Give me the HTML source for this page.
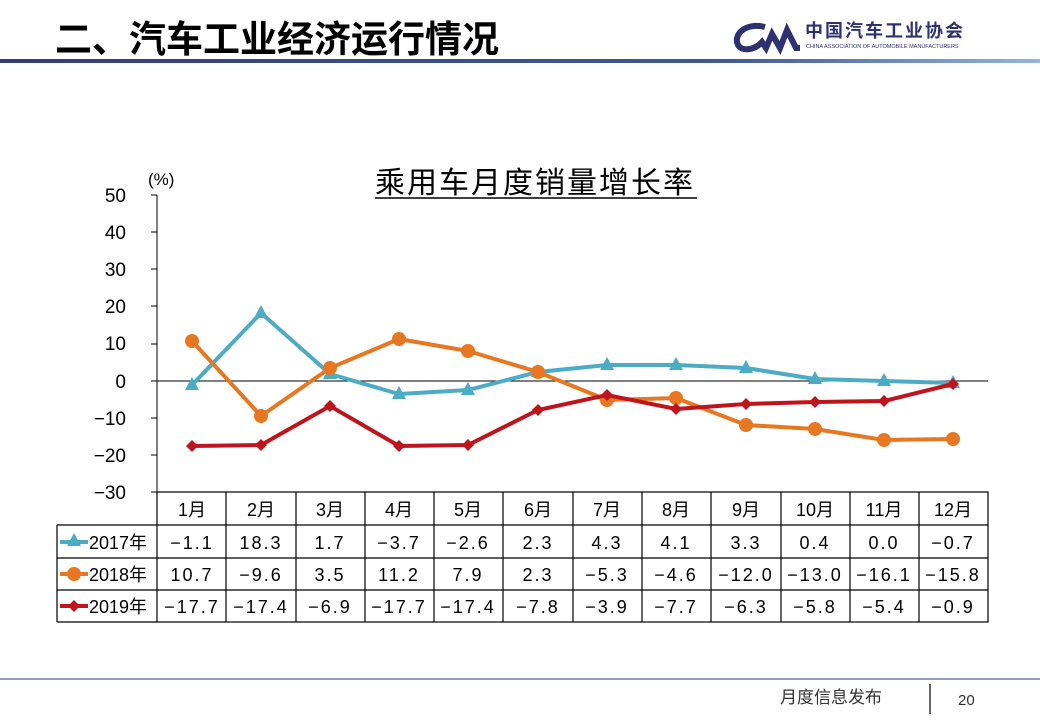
<!DOCTYPE html>
<html><head><meta charset="utf-8"><style>
body{margin:0;background:#fff;}
svg text{font-family:"Liberation Sans","Noto Sans CJK SC",sans-serif;}
</style></head><body>
<svg width="1040" height="720" viewBox="0 0 1040 720" xmlns="http://www.w3.org/2000/svg">
<defs><linearGradient id="g" x1="0" x2="1"><stop offset="0" stop-color="#2d3f78"/><stop offset="0.7" stop-color="#3d5a98"/><stop offset="1" stop-color="#8fb8e0"/></linearGradient></defs>
<text x="55" y="52" font-size="37" font-weight="bold" fill="#000">二、汽车工业经济运行情况</text>
<rect x="0" y="59" width="1040" height="4" fill="url(#g)"/>
<path d="M765 27 C745 22 733 35 738 45 C742 52 755 50 762 42 L766 48 L772 34 L780 48 L787 30 L796 48 L800 48" fill="none" stroke="#2d3170" stroke-width="6"/>
<text x="805" y="37" font-size="18" font-weight="bold" fill="#2d3170" letter-spacing="2">中国汽车工业协会</text>
<text x="806" y="48" font-size="5.5" fill="#2d3170">CHINA ASSOCIATION OF AUTOMOBILE MANUFACTURERS</text>
<text x="375" y="193" font-size="30" fill="#000" letter-spacing="2" textLength="320" lengthAdjust="spacing">乘用车月度销量增长率</text>
<line x1="375" y1="198" x2="697" y2="198" stroke="#000" stroke-width="1.5"/>
<text x="148" y="185" font-size="17" fill="#000">(%)</text>
<g font-size="19" fill="#000" text-anchor="end">
<text x="126" y="202">50</text><text x="126" y="239">40</text><text x="126" y="276">30</text><text x="126" y="313">20</text><text x="126" y="350">10</text><text x="126" y="388">0</text><text x="126" y="425">−10</text><text x="126" y="462">−20</text><text x="126" y="499">−30</text>
</g>
<g stroke="#000" stroke-width="1">
<line x1="157" y1="195" x2="157" y2="492"/>
<line x1="151" y1="195" x2="157" y2="195"/><line x1="151" y1="232" x2="157" y2="232"/><line x1="151" y1="269" x2="157" y2="269"/><line x1="151" y1="306" x2="157" y2="306"/><line x1="151" y1="344" x2="157" y2="344"/><line x1="151" y1="381" x2="157" y2="381"/><line x1="151" y1="418" x2="157" y2="418"/><line x1="151" y1="455" x2="157" y2="455"/><line x1="151" y1="492" x2="157" y2="492"/>
<line x1="157" y1="381" x2="988" y2="381"/>
</g>
<g stroke="#000" stroke-width="1.2" fill="none">
<rect x="157" y="492" width="831" height="130"/>
<line x1="57" y1="525" x2="988" y2="525"/><line x1="57" y1="558" x2="988" y2="558"/><line x1="57" y1="590" x2="988" y2="590"/><line x1="57" y1="622" x2="157" y2="622"/>
<line x1="57" y1="525" x2="57" y2="622"/>
<line x1="226" y1="492" x2="226" y2="622"/><line x1="296" y1="492" x2="296" y2="622"/><line x1="365" y1="492" x2="365" y2="622"/><line x1="434" y1="492" x2="434" y2="622"/><line x1="503" y1="492" x2="503" y2="622"/><line x1="573" y1="492" x2="573" y2="622"/><line x1="642" y1="492" x2="642" y2="622"/><line x1="711" y1="492" x2="711" y2="622"/><line x1="781" y1="492" x2="781" y2="622"/><line x1="850" y1="492" x2="850" y2="622"/><line x1="919" y1="492" x2="919" y2="622"/>
</g>
<g font-size="18" fill="#000" text-anchor="middle">
<text x="192" y="516">1月</text><text x="261" y="516">2月</text><text x="330" y="516">3月</text><text x="399" y="516">4月</text><text x="468" y="516">5月</text><text x="538" y="516">6月</text><text x="607" y="516">7月</text><text x="676" y="516">8月</text><text x="746" y="516">9月</text><text x="815" y="516">10月</text><text x="884" y="516">11月</text><text x="953" y="516">12月</text>
</g>
<g font-size="18" fill="#000" text-anchor="middle" letter-spacing="2">
<text x="192" y="549">−1.1</text><text x="261" y="549">18.3</text><text x="330" y="549">1.7</text><text x="399" y="549">−3.7</text><text x="468" y="549">−2.6</text><text x="538" y="549">2.3</text><text x="607" y="549">4.3</text><text x="676" y="549">4.1</text><text x="746" y="549">3.3</text><text x="815" y="549">0.4</text><text x="884" y="549">0.0</text><text x="953" y="549">−0.7</text>
<text x="192" y="581">10.7</text><text x="261" y="581">−9.6</text><text x="330" y="581">3.5</text><text x="399" y="581">11.2</text><text x="468" y="581">7.9</text><text x="538" y="581">2.3</text><text x="607" y="581">−5.3</text><text x="676" y="581">−4.6</text><text x="746" y="581">−12.0</text><text x="815" y="581">−13.0</text><text x="884" y="581">−16.1</text><text x="953" y="581">−15.8</text>
<text x="192" y="613">−17.7</text><text x="261" y="613">−17.4</text><text x="330" y="613">−6.9</text><text x="399" y="613">−17.7</text><text x="468" y="613">−17.4</text><text x="538" y="613">−7.8</text><text x="607" y="613">−3.9</text><text x="676" y="613">−7.7</text><text x="746" y="613">−6.3</text><text x="815" y="613">−5.8</text><text x="884" y="613">−5.4</text><text x="953" y="613">−0.9</text>
</g>
<g font-size="18" fill="#000"><text x="89" y="549">2017年</text><text x="89" y="581">2018年</text><text x="89" y="613">2019年</text></g>
<line x1="60" y1="542" x2="88" y2="542" stroke="#4bacc6" stroke-width="4"/><polygon points="74,533 81,546 67,546" fill="#4bacc6"/>
<line x1="60" y1="574" x2="88" y2="574" stroke="#e87722" stroke-width="4"/><circle cx="74" cy="574" r="7" fill="#e87722"/>
<line x1="60" y1="606" x2="88" y2="606" stroke="#c0141c" stroke-width="4"/><polygon points="74,600 80,606 74,612 68,606" fill="#c0141c"/>
<polyline fill="none" stroke="#4bacc6" stroke-width="4" points="192,385 261,313 330,374 399,394 468,390 538,372 607,365 676,365 746,368 815,379 884,381 953,383"/>
<g fill="#4bacc6">
<polygon points="192,377 199,390 185,390"/><polygon points="261,305 268,318 254,318"/><polygon points="330,366 337,379 323,379"/><polygon points="399,386 406,399 392,399"/><polygon points="468,382 475,395 461,395"/><polygon points="538,364 545,377 531,377"/><polygon points="607,357 614,370 600,370"/><polygon points="676,357 683,370 669,370"/><polygon points="746,360 753,373 739,373"/><polygon points="815,371 822,384 808,384"/><polygon points="884,373 891,386 877,386"/><polygon points="953,375 960,388 946,388"/>
</g>
<polyline fill="none" stroke="#e87722" stroke-width="4" points="192,341 261,416 330,368 399,339 468,351 538,372 607,400 676,398 746,425 815,429 884,440 953,439"/>
<g fill="#e87722">
<circle cx="192" cy="341" r="7"/><circle cx="261" cy="416" r="7"/><circle cx="330" cy="368" r="7"/><circle cx="399" cy="339" r="7"/><circle cx="468" cy="351" r="7"/><circle cx="538" cy="372" r="7"/><circle cx="607" cy="400" r="7"/><circle cx="676" cy="398" r="7"/><circle cx="746" cy="425" r="7"/><circle cx="815" cy="429" r="7"/><circle cx="884" cy="440" r="7"/><circle cx="953" cy="439" r="7"/>
</g>
<polyline fill="none" stroke="#c0141c" stroke-width="4" points="192,446 261,445 330,406 399,446 468,445 538,410 607,395 676,409 746,404 815,402 884,401 953,384"/>
<g fill="#c0141c">
<polygon points="192,440 198,446 192,452 186,446"/><polygon points="261,439 267,445 261,451 255,445"/><polygon points="330,400 336,406 330,412 324,406"/><polygon points="399,440 405,446 399,452 393,446"/><polygon points="468,439 474,445 468,451 462,445"/><polygon points="538,404 544,410 538,416 532,410"/><polygon points="607,389 613,395 607,401 601,395"/><polygon points="676,403 682,409 676,415 670,409"/><polygon points="746,398 752,404 746,410 740,404"/><polygon points="815,396 821,402 815,408 809,402"/><polygon points="884,395 890,401 884,407 878,401"/><polygon points="953,378 959,384 953,390 947,384"/>
</g>
<line x1="0" y1="679" x2="1040" y2="679" stroke="#6b7fa8" stroke-width="1.5"/>
<line x1="930" y1="684" x2="930" y2="714" stroke="#333" stroke-width="1.5"/>
<text x="780" y="703" font-size="17" fill="#333">月度信息发布</text>
<text x="958" y="705" font-size="15" fill="#333">20</text>
</svg>
</body></html>
